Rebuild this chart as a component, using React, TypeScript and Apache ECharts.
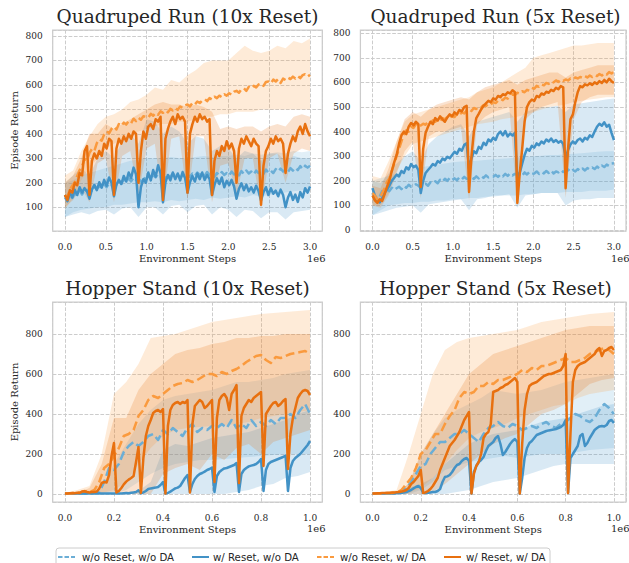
import React, { useEffect, useRef } from 'react';
import * as echarts from 'echarts';

// ---------------- Series meta ----------------
const NAMES = ['w/o Reset, w/o DA', 'w/ Reset, w/o DA', 'w/o Reset, w/ DA', 'w/ Reset, w/ DA'];
const COLORS = ['#6baed6', '#4292c6', '#fa9a3e', '#e8700f'];
const DASHED = [true, false, true, false];

// ---------------- Quadruped Run (10x Reset) ----------------
// means, x step 0.03e6 (0 .. 3.0e6)
const QR10_NRND = [
  140,125,150,138,155,150,168,152,172,165,
  178,168,182,175,186,178,195,182,198,190,
  203,192,208,198,212,204,218,206,222,212,
  216,205,224,212,228,218,232,222,236,226,
  230,218,234,224,238,228,234,220,230,222,
  234,224,238,228,242,232,238,228,244,232,
  236,224,240,230,244,232,240,230,246,234,
  240,230,248,236,250,238,246,234,250,240,
  248,236,254,242,250,240,256,246,258,246,
  254,244,260,250,262,252,268,256,270,262,270,
];
const QR10_RND = [
  150,125,160,140,172,150,182,160,178,165,
  135,172,192,170,202,180,212,188,222,200,
  145,192,212,195,228,205,242,220,262,235,
  100,182,215,200,242,210,252,225,272,240,
  120,202,232,210,242,215,238,210,244,220,
  160,202,228,205,238,215,242,212,232,215,
  150,192,218,195,222,182,208,190,212,185,
  135,176,198,170,192,165,182,160,188,165,
  128,162,182,150,178,155,168,145,172,150,
  100,140,162,130,152,122,162,140,178,160,185,
];
const QR10_NRDA = [
  150,140,172,188,202,228,252,268,298,292,
  322,338,330,362,378,372,398,410,402,420,
  430,418,440,432,446,438,452,444,462,452,
  466,458,472,470,466,482,474,486,478,492,
  486,496,488,502,496,506,498,512,506,516,
  520,512,526,520,532,526,536,542,534,546,
  540,552,546,556,550,562,556,566,560,572,
  576,568,582,586,576,592,586,596,590,602,
  606,596,612,614,606,622,614,624,608,626,
  620,630,624,634,626,636,628,640,644,634,641,
];
const QR10_RDA = [
  150,130,170,160,200,190,240,230,330,350,
  150,290,320,300,330,310,360,340,380,370,
  150,340,380,360,390,370,400,380,410,400,
  200,330,410,380,430,440,420,460,450,470,
  130,380,420,450,470,440,480,460,470,450,
  160,400,440,470,450,480,460,470,450,460,
  150,290,330,310,350,330,370,340,360,330,
  200,340,380,360,390,370,350,380,360,350,
  110,270,330,350,380,360,390,370,380,360,
  240,320,360,390,370,410,430,400,440,410,390,
];
// bands, x step 0.1e6
const QR10_NRND_LO = [60,80,90,95,100,100,110,110,115,120,120,125,120,130,125,130,135,130,140,135,140,145,140,150,145,150,155,160,165,170,180];
const QR10_NRND_HI = [200,210,230,240,250,260,270,280,290,295,300,300,300,305,300,300,305,310,305,310,310,315,310,320,315,320,325,320,330,325,330];
const QR10_RND_LO = [60,70,80,70,85,90,70,95,100,60,100,100,70,105,110,80,105,110,70,100,90,60,90,85,55,80,80,50,80,85,90];
const QR10_RND_HI = [200,230,260,230,300,330,300,370,400,360,460,450,400,430,410,360,390,380,330,350,340,300,330,320,290,320,320,290,310,300,300];
const QR10_NRDA_LO = [90,140,210,260,300,340,360,380,400,410,420,430,440,440,450,450,460,470,470,480,480,490,490,490,500,500,500,500,500,500,500];
const QR10_NRDA_HI = [230,250,330,390,440,470,480,500,530,540,560,590,580,620,610,640,660,690,700,700,700,730,760,740,730,740,760,750,780,770,790];
const QR10_RDA_LO = [100,130,180,120,280,300,120,310,330,150,340,360,110,380,390,130,390,390,120,270,280,150,300,300,90,300,320,200,320,340,330];
const QR10_RDA_HI = [200,230,300,400,400,440,420,440,460,480,500,520,530,520,520,510,520,510,490,420,430,420,430,430,410,430,440,430,470,480,470];

// ---------------- Quadruped Run (5x Reset) ----------------
const QR5_NRND = [
  150,128,142,136,158,150,165,158,172,162,
  170,176,166,180,172,184,176,178,186,180,
  172,184,188,180,194,188,198,190,204,196,
  208,200,212,203,210,202,214,206,216,208,
  206,214,208,218,210,220,212,222,214,218,
  217,224,216,226,218,228,220,230,222,228,
  224,232,222,234,226,236,228,230,238,228,
  236,230,240,232,242,230,238,234,244,236,
  240,246,236,244,238,248,240,250,242,252,
  246,254,248,258,250,262,256,266,260,270,271,
];
const QR5_RND = [
  170,140,118,112,130,150,165,180,200,212,
  225,218,240,232,255,246,268,255,262,244,
  150,200,232,244,255,268,262,280,274,290,
  284,298,292,305,318,310,330,322,346,352,
  250,290,320,312,338,330,355,345,368,360,
  375,366,390,400,385,402,380,392,384,395,
  200,232,270,305,330,322,342,335,352,345,
  360,352,368,360,372,358,366,355,362,350,
  295,325,348,360,352,366,372,360,375,368,
  385,378,400,420,432,424,438,420,428,395,365,
];
const QR5_NRDA = [
  150,140,125,130,150,170,195,210,240,270,
  300,330,360,390,405,400,420,415,430,420,
  425,432,428,440,436,446,440,450,444,455,
  450,460,455,466,460,472,468,478,474,486,
  490,484,496,492,502,498,508,504,514,510,
  520,516,526,532,528,538,534,544,552,548,
  558,554,564,560,570,566,578,574,586,582,
  592,588,598,594,604,600,608,602,612,606,
  612,608,616,612,620,616,622,618,626,620,
  628,622,630,626,634,628,638,632,642,636,645,
];
const QR5_RDA = [
  140,120,110,125,118,145,175,200,240,275,
  305,350,385,400,390,420,435,425,440,430,
  175,330,395,420,440,430,455,445,462,450,
  440,458,470,462,478,470,488,482,500,505,
  155,300,400,455,472,490,505,515,525,520,
  535,530,545,540,552,548,560,555,568,560,
  110,232,330,440,500,520,530,525,545,540,
  555,550,562,558,570,565,578,572,585,580,
  170,330,450,470,520,560,585,580,592,588,
  596,590,600,594,605,598,610,600,615,605,598,
];
const QR5_NRND_LO = [60,80,100,105,110,110,115,115,120,120,125,125,130,130,135,135,140,140,140,145,145,150,150,150,155,155,155,160,160,160,165];
const QR5_NRND_HI = [200,210,220,230,240,250,255,260,265,270,275,278,280,282,285,288,290,292,295,298,300,302,305,305,308,310,312,315,318,320,320];
const QR5_RND_LO = [60,70,80,90,95,100,70,105,110,115,120,125,80,125,130,140,140,145,90,140,145,150,150,150,100,120,125,125,130,130,130];
const QR5_RND_HI = [200,190,230,270,300,320,280,350,380,400,420,430,380,440,450,460,470,480,440,480,490,500,500,505,480,510,515,520,525,530,535];
const QR5_NRDA_LO = [100,100,150,240,300,350,360,370,380,390,400,410,420,430,435,440,450,455,460,470,480,490,500,505,510,520,525,530,535,540,540];
const QR5_NRDA_HI = [220,210,280,360,440,470,480,490,500,510,520,530,540,560,570,580,600,620,640,660,700,710,720,730,740,750,750,755,760,760,760];
const QR5_RDA_LO = [100,90,140,230,320,360,130,380,400,400,410,420,120,430,460,480,490,500,100,450,480,500,510,520,130,450,520,540,550,550,550];
const QR5_RDA_HI = [180,170,250,360,450,480,460,490,510,520,530,540,530,560,580,590,600,610,590,610,620,630,640,640,620,640,650,660,670,670,670];

// ---------------- Hopper Stand (10x Reset) ----------------
// no-reset means: x step 0.02e6; reset means: x step 0.01e6
const H10_NRND = [
  3,3,3,4,3,4,5,10,60,130,
  120,150,210,240,260,240,260,290,300,270,
  320,300,330,310,290,330,350,310,330,320,
  340,330,350,330,370,330,350,330,370,340,
  360,340,370,350,380,380,400,380,420,450,
  400,
];
const H10_NRDA = [
  3,3,5,8,15,10,20,60,130,150,
  190,230,290,300,320,390,420,470,490,480,
  500,520,540,550,555,570,560,570,585,600,
  600,590,610,600,615,625,640,660,675,690,
  695,670,655,685,680,690,700,705,710,715,
  700,
];
const H10_RND = [
  3,3,3,3,3,3,3,3,3,3,
  3,3,3,3,3,3,3,3,3,3,
  3,3,3,3,4,5,4,6,8,10,
  18,3,8,15,25,28,30,32,35,45,
  60,3,5,12,20,28,32,40,60,80,
  95,10,50,75,90,100,105,112,120,125,
  132,10,90,110,120,128,130,135,140,145,
  155,10,100,120,130,138,142,145,150,160,
  175,15,120,150,160,165,170,175,180,185,
  192,15,130,165,180,190,200,215,230,245,
  265,
];
const H10_RDA = [
  3,3,4,5,4,6,5,12,14,10,
  8,10,10,12,28,55,60,58,95,190,
  255,8,15,30,48,62,72,80,90,160,
  235,5,180,290,340,370,405,415,420,410,
  425,3,340,420,445,455,460,450,460,455,
  470,8,350,440,455,470,460,430,440,455,
  470,60,380,470,490,500,480,420,500,520,
  545,55,390,430,450,470,460,480,490,500,
  510,140,400,420,440,455,460,440,450,465,
  475,125,300,380,430,480,500,515,520,515,
  495,
];
// bands, x step 0.05e6
const H10_NRND_LO = [0,0,0,0,0,20,60,100,130,150,160,170,170,175,180,185,190,195,200,200,200];
const H10_NRND_HI = [5,5,5,30,150,250,350,420,470,490,500,510,520,540,560,560,570,580,600,610,620];
const H10_RND_LO = [0,0,0,0,0,0,0,0,0,0,0,0,0,0,10,20,40,50,80,90,110];
const H10_RND_HI = [5,5,5,5,5,5,15,60,220,250,240,260,280,290,300,310,330,350,370,400,420];
const H10_NRDA_LO = [0,0,0,5,20,60,150,230,290,320,330,335,340,345,350,360,380,390,400,410,420];
const H10_NRDA_HI = [5,20,40,200,500,560,650,780,790,800,820,840,860,870,880,890,900,905,910,915,920];
const H10_RDA_LO = [0,0,0,0,10,0,0,0,100,130,150,120,200,170,230,250,200,260,280,300,320];
const H10_RDA_HI = [5,5,30,150,380,380,520,600,650,700,720,730,750,760,780,780,790,790,800,800,800];

// ---------------- Hopper Stand (5x Reset) ----------------
const H5_NRND = [
  3,3,3,3,4,5,10,30,60,100,
  140,150,200,230,260,260,280,300,300,320,
  300,280,260,300,330,340,360,340,330,350,
  340,320,330,340,330,350,360,340,330,350,
  360,380,400,390,370,360,380,420,450,430,
  400,
];
const H5_NRDA = [
  3,3,3,4,5,8,20,50,80,130,
  200,220,260,300,300,350,390,420,480,510,
  500,510,540,540,560,550,570,570,580,590,
  600,620,610,630,620,640,640,650,660,670,
  680,660,660,670,680,700,710,720,730,720,
  700,
];
const H5_RND = [
  3,3,3,3,3,3,3,3,3,3,
  4,5,5,8,10,15,20,28,35,40,
  30,5,5,6,8,10,10,15,25,60,
  85,88,95,110,130,145,150,165,175,180,
  165,2,110,140,160,170,185,215,240,250,
  260,280,290,250,195,210,230,250,265,275,
  260,2,80,180,230,255,265,280,295,300,
  305,310,315,318,320,322,325,330,335,345,
  370,5,180,200,220,240,290,300,240,255,
  280,300,320,330,338,340,338,345,365,370,
  355,
];
const H5_RDA = [
  3,3,4,4,5,5,6,6,7,8,
  9,10,12,15,20,30,50,60,75,90,
  120,5,8,15,25,40,60,80,120,150,
  180,210,240,255,270,290,310,340,370,390,
  410,3,100,140,160,200,280,300,310,350,
  510,515,520,530,535,545,550,560,570,580,
  560,3,250,420,500,540,550,555,560,570,
  580,590,595,600,600,605,610,615,620,640,
  700,5,300,560,620,640,650,655,660,670,
  680,690,700,720,730,690,715,720,730,735,
  720,
];
const H5_NRND_LO = [0,0,0,0,20,60,120,140,160,170,180,190,180,190,200,200,200,210,220,225,230];
const H5_NRND_HI = [5,5,10,50,200,300,380,420,450,480,520,510,500,510,520,540,560,570,580,590,600];
const H5_RND_LO = [0,0,0,0,0,0,0,10,20,40,60,70,80,100,120,140,150,150,150,150,150];
const H5_RND_HI = [5,5,10,30,50,80,150,200,250,280,300,310,320,340,360,370,380,400,420,440,450];
const H5_NRDA_LO = [0,0,0,5,30,80,150,220,280,310,330,350,380,400,420,440,450,480,500,510,520];
const H5_NRDA_HI = [5,10,20,200,400,600,720,760,780,790,800,810,820,840,860,870,880,890,900,905,910];
const H5_RDA_LO = [0,0,0,0,0,10,50,100,150,200,250,280,300,350,400,420,450,500,550,570,580];
const H5_RDA_HI = [5,5,10,50,200,300,400,500,600,650,700,720,740,760,780,800,820,830,840,840,840];

// ---------------- layout / style ----------------
const SERIF = '"DejaVu Serif", serif';
const SANS = '"DejaVu Sans", sans-serif';
const TEXT = '#262626';
const GRIDLINE = '#cccccc';

type Panel = {
  title: string;
  grid: { left: number; top: number; width: number; height: number };
  titleTop: number;
  xMin: number; xMax: number; xSplit: number; xLabelStep: number;
  yMin: number; yMax: number; ySplit: number; yLabelStep: number;
  yName: boolean;
  lineSteps: number[];
  lines: number[][];
  bandStep: number;
  bands: number[][][];
  offset: { x: number; y: number };
};

const PANELS: Panel[] = [
  {
    title: 'Quadruped Run (10x Reset)',
    grid: { left: 52.7, top: 30, width: 269.6, height: 201 },
    titleTop: 7,
    xMin: -0.15, xMax: 3.15, xSplit: 5, xLabelStep: 0.5,
    yMin: 3, yMax: 824.5, ySplit: 8, yLabelStep: 100,
    yName: true,
    lineSteps: [0.03, 0.03, 0.03, 0.03],
    lines: [QR10_NRND, QR10_RND, QR10_NRDA, QR10_RDA],
    bandStep: 0.1,
    bands: [[QR10_NRND_LO, QR10_NRND_HI], [QR10_RND_LO, QR10_RND_HI], [QR10_NRDA_LO, QR10_NRDA_HI], [QR10_RDA_LO, QR10_RDA_HI]],
    offset: { x: 307, y: 258 },
  },
  {
    title: 'Quadruped Run (5x Reset)',
    grid: { left: 360.4, top: 30, width: 270.2, height: 201 },
    titleTop: 7,
    xMin: -0.15, xMax: 3.15, xSplit: 5, xLabelStep: 0.5,
    yMin: -4, yMax: 813, ySplit: 8, yLabelStep: 100,
    yName: false,
    lineSteps: [0.03, 0.03, 0.03, 0.03],
    lines: [QR5_NRND, QR5_RND, QR5_NRDA, QR5_RDA],
    bandStep: 0.1,
    bands: [[QR5_NRND_LO, QR5_NRND_HI], [QR5_RND_LO, QR5_RND_HI], [QR5_NRDA_LO, QR5_NRDA_HI], [QR5_RDA_LO, QR5_RDA_HI]],
    offset: { x: 611, y: 258 },
  },
  {
    title: 'Hopper Stand (10x Reset)',
    grid: { left: 52.7, top: 302, width: 269.6, height: 200 },
    titleTop: 279,
    xMin: -0.05, xMax: 1.05, xSplit: 5, xLabelStep: 0.2,
    yMin: -40, yMax: 960, ySplit: 5, yLabelStep: 200,
    yName: true,
    lineSteps: [0.02, 0.01, 0.02, 0.01],
    lines: [H10_NRND, H10_RND, H10_NRDA, H10_RDA],
    bandStep: 0.05,
    bands: [[H10_NRND_LO, H10_NRND_HI], [H10_RND_LO, H10_RND_HI], [H10_NRDA_LO, H10_NRDA_HI], [H10_RDA_LO, H10_RDA_HI]],
    offset: { x: 307, y: 528 },
  },
  {
    title: 'Hopper Stand (5x Reset)',
    grid: { left: 360.4, top: 302, width: 270.2, height: 200 },
    titleTop: 279,
    xMin: -0.05, xMax: 1.05, xSplit: 5, xLabelStep: 0.2,
    yMin: -40, yMax: 960, ySplit: 5, yLabelStep: 200,
    yName: false,
    lineSteps: [0.02, 0.01, 0.02, 0.01],
    lines: [H5_NRND, H5_RND, H5_NRDA, H5_RDA],
    bandStep: 0.05,
    bands: [[H5_NRND_LO, H5_NRND_HI], [H5_RND_LO, H5_RND_HI], [H5_NRDA_LO, H5_NRDA_HI], [H5_RDA_LO, H5_RDA_HI]],
    offset: { x: 611, y: 528 },
  },
];

const rx = (v: number) => Math.round(v * 10000) / 10000;
const toPairs = (step: number, ys: number[]) => ys.map((y, i) => [rx(i * step), y]);
const tickFmt = (step: number, digits: number) => (v: number) => {
  const k = v / step;
  return Math.abs(k - Math.round(k)) < 1e-6 ? (Math.abs(v) < 1e-9 ? 0 : v).toFixed(digits) : '';
};

function buildOption() {
  const series: any[] = [];
  PANELS.forEach((p, pi) => {
    for (let s = 0; s < 4; s++) {
      const [lo, hi] = p.bands[s];
      const step = p.bandStep;
      const color = COLORS[s];
      series.push({
        type: 'custom',
        name: NAMES[s],
        xAxisIndex: pi,
        yAxisIndex: pi,
        silent: true,
        clip: true,
        data: [[0, 0]],
        renderItem: (_params: any, api: any) => {
          const pts: number[][] = [];
          for (let i = 0; i < hi.length; i++) pts.push(api.coord([rx(i * step), hi[i]]));
          for (let i = lo.length - 1; i >= 0; i--) pts.push(api.coord([rx(i * step), lo[i]]));
          return { type: 'polygon', shape: { points: pts }, style: { fill: color, opacity: 0.2 } };
        },
      });
      series.push({
        type: 'line',
        name: NAMES[s],
        xAxisIndex: pi,
        yAxisIndex: pi,
        data: toPairs(p.lineSteps[s], p.lines[s]),
        showSymbol: false,
        symbol: 'none',
        silent: true,
        lineStyle: { color, width: 2.5, type: DASHED[s] ? [9, 4] : 'solid', join: 'round', cap: 'butt' },
      });
    }
  });

  const graphic: any[] = [];
  PANELS.forEach((p) => {
    graphic.push({
      type: 'text', x: p.offset.x, y: p.offset.y, silent: true,
      style: { text: '1e6', fontFamily: SERIF, fontSize: 10, fill: TEXT, align: 'left', verticalAlign: 'middle' },
    });
  });
  // legend
  graphic.push({
    type: 'rect', silent: true,
    shape: { x: 56, y: 548, width: 494, height: 26, r: 3 },
    style: { fill: '#ffffff', stroke: GRIDLINE, lineWidth: 1 },
  });
  const LEG_LINE_X = [58, 192, 317, 444];
  const LEG_TEXT_X = [82, 213, 340, 466];
  const LEG_Y = 557;
  for (let s = 0; s < 4; s++) {
    graphic.push({
      type: 'line', silent: true,
      shape: { x1: LEG_LINE_X[s], y1: LEG_Y, x2: LEG_LINE_X[s] + 17, y2: LEG_Y },
      style: { stroke: COLORS[s], lineWidth: 2, lineDash: DASHED[s] ? [4.5, 2] : null },
    });
    graphic.push({
      type: 'text', silent: true, x: LEG_TEXT_X[s], y: LEG_Y,
      style: { text: NAMES[s], fontFamily: SANS, fontSize: 10.2, fill: TEXT, align: 'left', verticalAlign: 'middle' },
    });
  }

  return {
    animation: false,
    backgroundColor: '#ffffff',
    title: PANELS.map((p) => ({
      text: p.title,
      left: p.grid.left + p.grid.width / 2,
      top: p.titleTop,
      textAlign: 'center',
      padding: 0,
      textStyle: { fontFamily: SERIF, fontSize: 18.5, fontWeight: 'normal', color: TEXT },
    })),
    grid: PANELS.map((p) => ({
      ...p.grid,
      show: true,
      borderColor: GRIDLINE,
      borderWidth: 1.25,
      backgroundColor: '#ffffff',
      containLabel: false,
    })),
    xAxis: PANELS.map((p, i) => ({
      gridIndex: i,
      type: 'value',
      min: p.xMin,
      max: p.xMax,
      splitNumber: p.xSplit,
      axisLine: { show: false },
      axisTick: { show: false },
      axisLabel: { formatter: tickFmt(p.xLabelStep, 1), fontFamily: SERIF, fontSize: 9, color: TEXT, margin: 11 },
      splitLine: { show: true, lineStyle: { color: GRIDLINE, width: 1, type: [3.7, 1.6] } },
      name: 'Environment Steps',
      nameLocation: 'middle',
      nameGap: 22,
      nameTextStyle: { fontFamily: SERIF, fontSize: 10, color: TEXT },
    })),
    yAxis: PANELS.map((p, i) => ({
      gridIndex: i,
      type: 'value',
      min: p.yMin,
      max: p.yMax,
      splitNumber: p.ySplit,
      axisLine: { show: false },
      axisTick: { show: false },
      axisLabel: { formatter: tickFmt(p.yLabelStep, 0), fontFamily: SERIF, fontSize: 9, color: TEXT, margin: 10 },
      splitLine: { show: true, lineStyle: { color: GRIDLINE, width: 1, type: [3.7, 1.6] } },
      name: p.yName ? 'Episode Return' : '',
      nameLocation: 'middle',
      nameGap: 33,
      nameTextStyle: { fontFamily: SERIF, fontSize: 10, color: TEXT },
    })),
    series,
    graphic,
  };
}

export default function App() {
  const ref = useRef<HTMLDivElement>(null);
  useEffect(() => {
    document.body.style.margin = '0';
    if (!ref.current) return;
    const chart = echarts.init(ref.current, undefined, { renderer: 'svg' });
    chart.setOption(buildOption() as any);
    return () => chart.dispose();
  }, []);
  return <div ref={ref} style={{ width: 629, height: 563 }} />;
}
